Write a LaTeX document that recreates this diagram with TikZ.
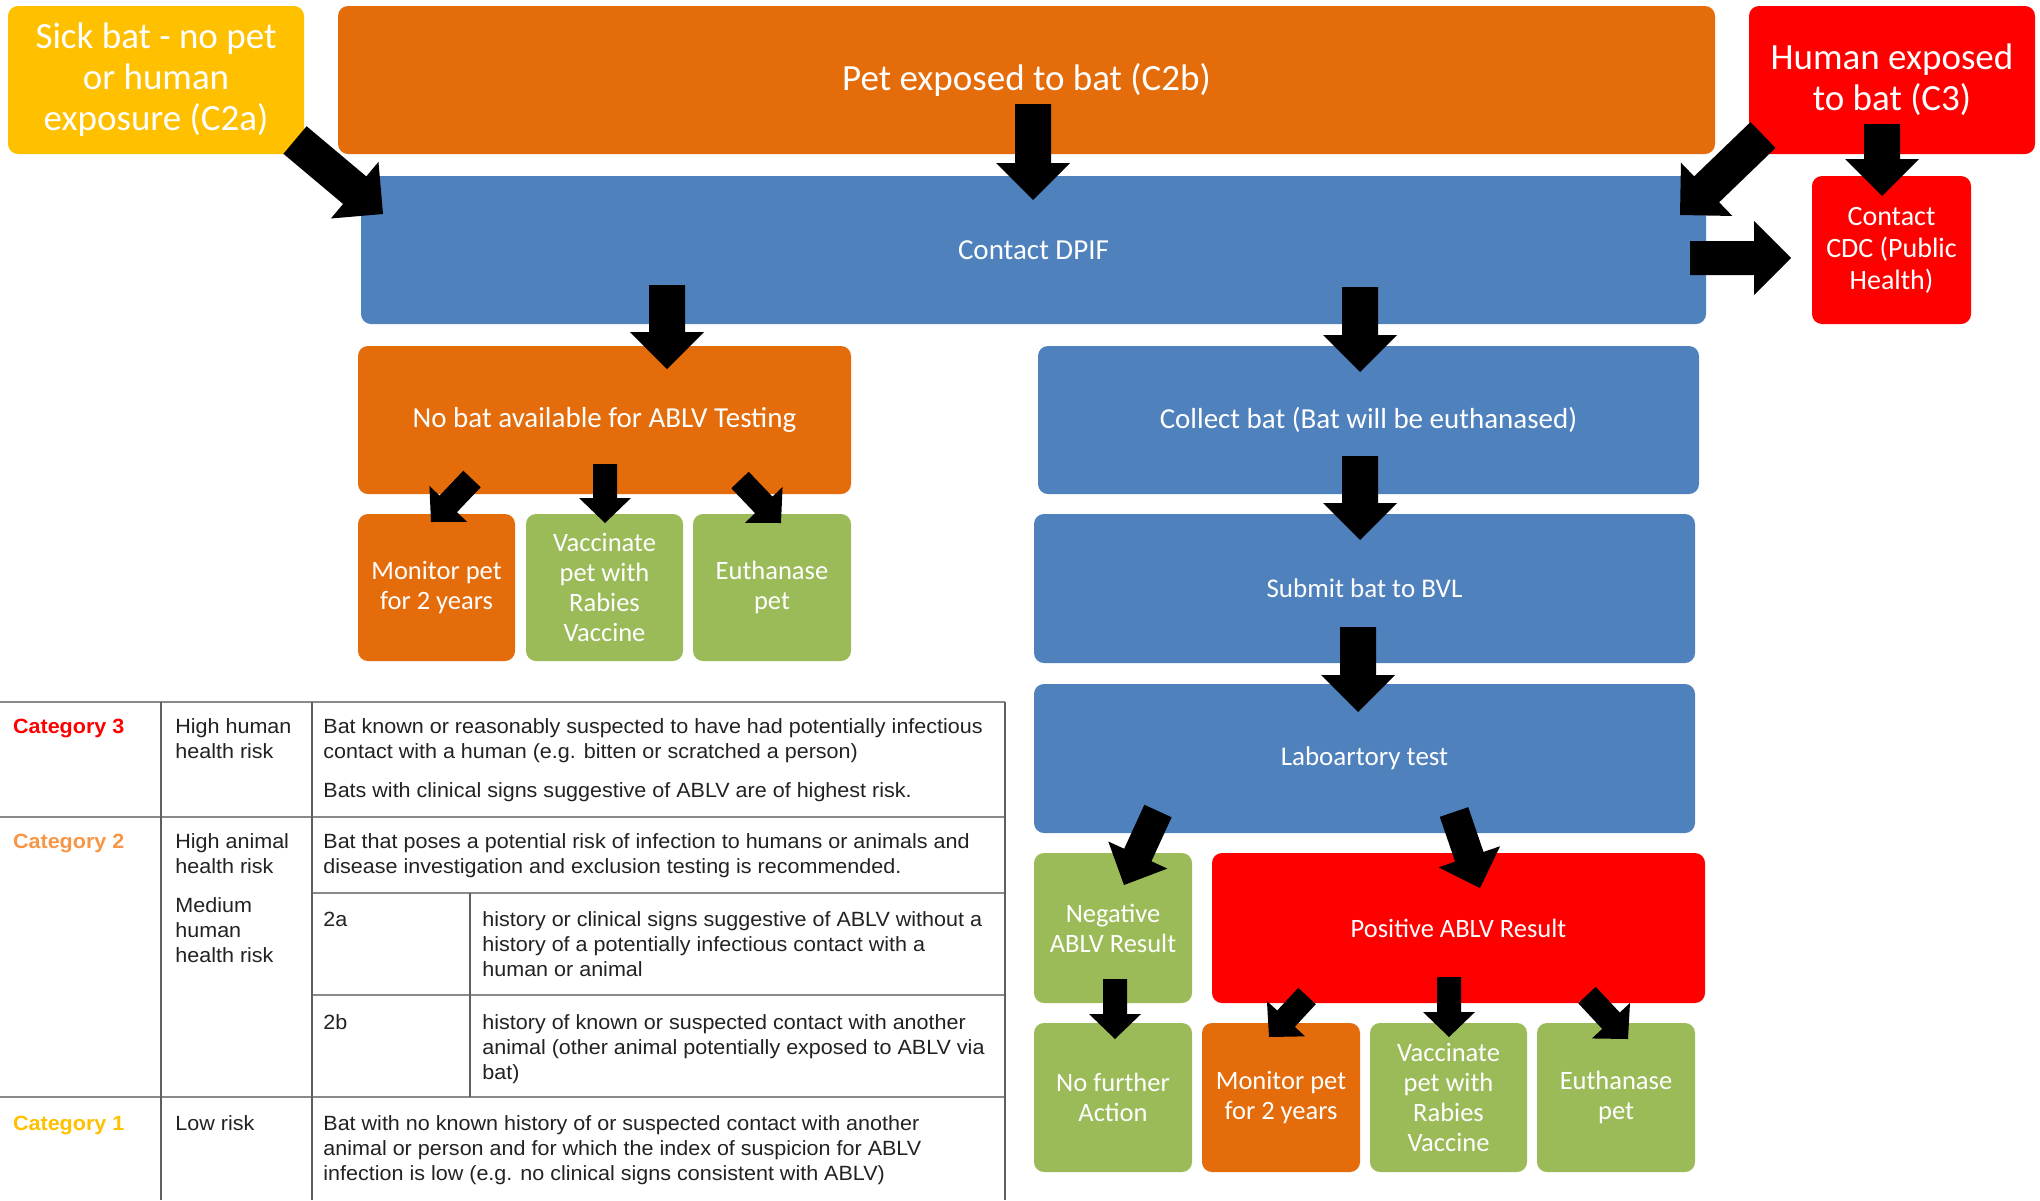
\documentclass[tikz,border=0pt]{standalone}
\usepackage{fontspec}
\setmainfont{Carlito}
\newfontfamily\tabfont[FakeStretch=1.045]{Liberation Sans}
\usetikzlibrary{calc}
\definecolor{cOrange}{HTML}{E46C0A}
\definecolor{cBlue}{HTML}{4F81BD}
\definecolor{cGreen}{HTML}{9BBB59}
\definecolor{cRed}{HTML}{FF0000}
\definecolor{cYellow}{HTML}{FFC000}
\definecolor{cCat2}{HTML}{F79646}
\definecolor{cHline}{HTML}{8A8A8A}
\definecolor{cVline}{HTML}{606060}
\definecolor{cTabText}{HTML}{222222}
\tikzset{
  flow/.style={rounded corners=5pt, inner sep=0pt, align=center, text=white},
  bigtxt/.style={font=\fontsize{18.5}{20.5}\selectfont},
  midtxt/.style={font=\fontsize{14.5}{16}\selectfont},
  smltxt/.style={font=\fontsize{13.25}{15}\selectfont},
  tabtxt/.style={font=\tabfont\fontsize{10.3}{12.65}\selectfont, anchor=base west, inner sep=0pt, text=cTabText},
  cattxt/.style={font=\tabfont\bfseries\fontsize{10.3}{12.65}\selectfont, anchor=base west, inner sep=0pt},
  hline/.style={draw=cHline, line width=1pt},
  vline/.style={draw=cVline, line width=0.75pt},
}
% block arrow: tail, tip, shaft half width, head half width, head length
\newcommand\blkarrow[5]{%
  \coordinate (ba-b) at ($(#2)!#5!(#1)$);
  \fill[black] ($(#1)!#3!90:(#2)$) -- ($(ba-b)!#3!90:(#2)$) -- ($(ba-b)!#4!90:(#2)$) -- (#2)
    -- ($(ba-b)!#4!-90:(#2)$) -- ($(ba-b)!#3!-90:(#2)$) -- ($(#1)!#3!-90:(#2)$) -- cycle;
}
\newcommand\bigarrow[2]{\blkarrow{#1}{#2}{9pt}{18.5pt}{18.5pt}}
\newcommand\midarrow[2]{\blkarrow{#1}{#2}{7.5pt}{16.25pt}{16.5pt}}
\newcommand\smlarrow[2]{\blkarrow{#1}{#2}{6pt}{13pt}{12.5pt}}
\newcommand\tl[1]{\begin{tabular}[t]{@{}l@{}}#1\end{tabular}}
\begin{document}
\begin{tikzpicture}[x=0.5pt, y=-0.5pt]
\useasboundingbox (0,0) rectangle (2040,1200);
\fill[white] (0,0) rectangle (2040,1200);

% ---------- flowchart boxes ----------
\node[flow, fill=cYellow, minimum width=148pt, minimum height=74pt, bigtxt] (sick) at (156,80) {Sick bat - no pet\\or human\\exposure (C2a)};
\node[flow, fill=cOrange, minimum width=688.5pt, minimum height=74pt, bigtxt] (pet) at (1026.5,80) {Pet exposed to bat (C2b)};
\node[flow, fill=cRed, minimum width=143pt, minimum height=74pt, bigtxt] (human) at (1892,80) {Human exposed\\to bat (C3)};
\node[flow, fill=cBlue, minimum width=672.5pt, minimum height=74pt, midtxt] (dpif) at (1033.5,250) {Contact DPIF};
\node[flow, fill=cRed, minimum width=79.5pt, minimum height=74pt, font=\fontsize{14}{16}\selectfont] (cdc) at (1891.5,250) {Contact\\CDC (Public\\Health)};
\node[flow, fill=cOrange, minimum width=246.5pt, minimum height=74pt, midtxt] (nobat) at (604.5,420) {No bat available for ABLV Testing};
\node[flow, fill=cBlue, minimum width=330.5pt, minimum height=74pt, midtxt] (collect) at (1368.5,420) {Collect bat (Bat will be euthanased)};
\node[flow, fill=cOrange, minimum width=78.5pt, minimum height=73.5pt, smltxt] (monL) at (436.5,587.5) {Monitor pet\\for 2 years};
\node[flow, fill=cGreen, minimum width=78.5pt, minimum height=73.5pt, smltxt] (vacL) at (604.5,587.5) {Vaccinate\\pet with\\Rabies\\Vaccine};
\node[flow, fill=cGreen, minimum width=79pt, minimum height=73.5pt, smltxt] (euthL) at (772,587.5) {Euthanase\\pet};
\node[flow, fill=cBlue, minimum width=330.5pt, minimum height=74.5pt, font=\fontsize{13.5}{15}\selectfont] (submit) at (1364.5,588.5) {Submit bat to BVL};
\node[flow, fill=cBlue, minimum width=330.5pt, minimum height=74.5pt, font=\fontsize{13.5}{15}\selectfont] (lab) at (1364.5,758.5) {Laboartory test};
\node[flow, fill=cGreen, minimum width=79pt, minimum height=75pt, smltxt] (neg) at (1113,928) {Negative\\ABLV Result};
\node[flow, fill=cRed, minimum width=246.5pt, minimum height=75pt, smltxt] (pos) at (1458.5,928) {Positive ABLV Result};
\node[flow, fill=cGreen, minimum width=79pt, minimum height=74.5pt, smltxt] (nofur) at (1113,1097.5) {No further\\Action};
\node[flow, fill=cOrange, minimum width=79pt, minimum height=74.5pt, smltxt] (monR) at (1281,1097.5) {Monitor pet\\for 2 years};
\node[flow, fill=cGreen, minimum width=78.5pt, minimum height=74.5pt, smltxt] (vacR) at (1448.5,1097.5) {Vaccinate\\pet with\\Rabies\\Vaccine};
\node[flow, fill=cGreen, minimum width=79pt, minimum height=74.5pt, smltxt] (euthR) at (1616,1097.5) {Euthanase\\pet};

% ---------- block arrows ----------
\coordinate (petT) at (1033,104);   \coordinate (petH) at (1033,200);
\coordinate (sickT) at (295,140);   \coordinate (sickH) at (383,214);
\coordinate (humT) at (1763,135);   \coordinate (humH) at (1680,215);
\coordinate (hcT) at (1882,124);    \coordinate (hcH) at (1882,196);
\coordinate (dcT) at (1690,258);    \coordinate (dcH) at (1791,258);
\coordinate (dnT) at (667,285);     \coordinate (dnH) at (667,369);
\coordinate (dcoT) at (1360,287);   \coordinate (dcoH) at (1360,372);
\coordinate (csT) at (1360,456);    \coordinate (csH) at (1360,540);
\coordinate (slT) at (1358,627);    \coordinate (slH) at (1358,712);
\coordinate (n1T) at (472,479);     \coordinate (n1H) at (431,522);
\coordinate (n2T) at (605,464);     \coordinate (n2H) at (605,523);
\coordinate (n3T) at (740,480);     \coordinate (n3H) at (781,523);
\coordinate (lnT) at (1158,811);    \coordinate (lnH) at (1124,885);
\coordinate (lpT) at (1454,812);    \coordinate (lpH) at (1480,888);
\coordinate (nfT) at (1115,979);    \coordinate (nfH) at (1115,1039);
\coordinate (p1T) at (1307,996);    \coordinate (p1H) at (1269,1037);
\coordinate (p2T) at (1449,977);    \coordinate (p2H) at (1449,1037);
\coordinate (p3T) at (1587,995);    \coordinate (p3H) at (1628,1039);

\bigarrow{petT}{petH}
\bigarrow{sickT}{sickH}
\bigarrow{humT}{humH}
\bigarrow{hcT}{hcH}
\blkarrow{dcT}{dcH}{8.5pt}{18.5pt}{18.5pt}
\bigarrow{dnT}{dnH}
\bigarrow{dcoT}{dcoH}
\bigarrow{csT}{csH}
\bigarrow{slT}{slH}
\smlarrow{n1T}{n1H}
\smlarrow{n2T}{n2H}
\smlarrow{n3T}{n3H}
\midarrow{lnT}{lnH}
\midarrow{lpT}{lpH}
\smlarrow{nfT}{nfH}
\smlarrow{p1T}{p1H}
\smlarrow{p2T}{p2H}
\smlarrow{p3T}{p3H}

% ---------- table ----------
\draw[hline] (0,702) -- (1005,702);
\draw[hline] (0,817) -- (1005,817);
\draw[hline] (312,893) -- (1005,893);
\draw[hline] (312,995) -- (1005,995);
\draw[hline] (0,1097) -- (1005,1097);
\draw[vline] (161,702) -- (161,1200);
\draw[vline] (312,702) -- (312,1200);
\draw[vline] (470,893) -- (470,1097);
\draw[vline] (1005,702) -- (1005,1200);

\node[cattxt, text=cRed] (c3) at (12.7,733) {Category 3};
\node[tabtxt] (r3a) at (175,733) {\tl{High human\\health risk}};
\node[tabtxt] (r3b) at (323,733) {\tl{Bat known or reasonably suspected to have had potentially infectious\\contact with a human (e.g. bitten or scratched a person)}};
\node[tabtxt] (r3c) at (323,797) {Bats with clinical signs suggestive of ABLV are of highest risk.};

\node[cattxt, text=cCat2] (c2) at (12.7,848) {Category 2};
\node[tabtxt] (r2a) at (175,848) {\tl{High animal\\health risk}};
\node[tabtxt] (r2m) at (175,912) {\tl{Medium\\human\\health risk}};
\node[tabtxt] (r2b) at (323,848) {\tl{Bat that poses a potential risk of infection to humans or animals and\\disease investigation and exclusion testing is recommended.}};
\node[tabtxt] (r2c) at (323,926) {2a};
\node[tabtxt] (r2d) at (482,926) {\tl{history or clinical signs suggestive of ABLV without a\\history of a potentially infectious contact with a\\human or animal}};
\node[tabtxt] (r2e) at (323,1029) {2b};
\node[tabtxt] (r2f) at (482,1029) {\tl{history of known or suspected contact with another\\animal (other animal potentially exposed to ABLV via\\bat)}};

\node[cattxt, text=cYellow] (c1) at (12.7,1130) {Category 1};
\node[tabtxt] (r1a) at (175,1130) {Low risk};
\node[tabtxt] (r1b) at (323,1130) {\tl{Bat with no known history of or suspected contact with another\\animal or person and for which the index of suspicion for ABLV\\infection is low (e.g. no clinical signs consistent with ABLV)}};
\end{tikzpicture}
\end{document}
